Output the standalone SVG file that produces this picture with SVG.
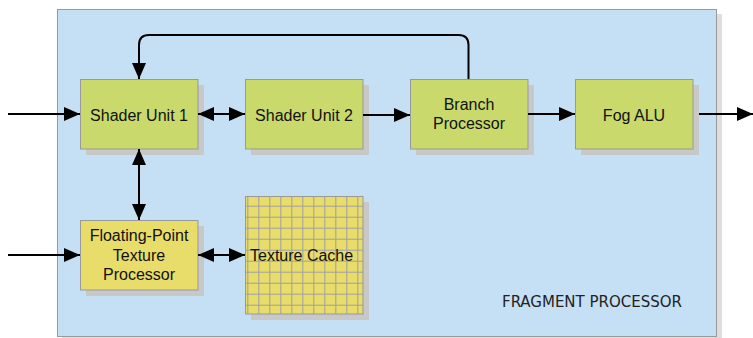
<svg xmlns="http://www.w3.org/2000/svg" width="753" height="338" viewBox="0 0 753 338">
<style>
.shadow{fill:#c8c8c8}
.green{fill:#c9d96b;stroke:#999;stroke-width:1}
.yellow{fill:#e8dc6a;stroke:#999;stroke-width:1}
.lbl{font-family:"Liberation Sans",Arial,sans-serif;font-size:16px;fill:#111;text-anchor:middle}
.wire{fill:none;stroke:#000;stroke-width:2}
</style>
<defs>
<marker id="ah" markerUnits="userSpaceOnUse" markerWidth="17" markerHeight="15" refX="16" refY="7" orient="auto-start-reverse">
<path d="M0,0 L16,7 L0,14 z" fill="#000"/>
</marker>
<pattern id="grid" patternUnits="userSpaceOnUse" x="247.3" y="194.7" width="11" height="11">
<rect width="11" height="11" fill="#e8dc6a"/>
<path d="M0,0.5 H11 M0.5,0 V11" stroke="#a0a0a0" stroke-width="1" fill="none"/>
</pattern>
</defs>
<g id="fragment-processor">
<rect x="62" y="14" width="660" height="330" class="shadow" fill-opacity="0.6"/>
<rect x="57.5" y="9.5" width="659" height="327" fill="#c5e0f4" stroke="#999" stroke-width="1"/>
<text x="502" y="306.5" font-family="'Gill Sans','DejaVu Sans Condensed','Liberation Sans',sans-serif" font-size="16" fill="#222" textLength="180" lengthAdjust="spacingAndGlyphs">FRAGMENT PROCESSOR</text>
</g>
<g id="shader-unit-1">
<rect x="86" y="85" width="118" height="70" class="shadow"/>
<rect x="80.5" y="79.5" width="117.5" height="69.5" class="green"/>
<text x="139" y="120.5" class="lbl">Shader Unit 1</text>
</g>
<g id="shader-unit-2">
<rect x="251" y="85" width="118" height="70" class="shadow"/>
<rect x="245.5" y="79.5" width="117.5" height="69.5" class="green"/>
<text x="304" y="120.5" class="lbl">Shader Unit 2</text>
</g>
<g id="branch-processor">
<rect x="416" y="85" width="118" height="70" class="shadow"/>
<rect x="410.5" y="79.5" width="117.5" height="69.5" class="green"/>
<text x="469" y="110" class="lbl">Branch</text>
<text x="469" y="129" class="lbl">Processor</text>
</g>
<g id="fog-alu">
<rect x="581" y="85" width="118" height="70" class="shadow"/>
<rect x="575.5" y="79.5" width="117.5" height="69.5" class="green"/>
<text x="634" y="120.5" class="lbl">Fog ALU</text>
</g>
<g id="floating-point-texture-processor">
<rect x="86" y="226" width="118" height="70" class="shadow"/>
<rect x="80.5" y="220.5" width="117.5" height="69.5" class="yellow"/>
<text x="139" y="240.5" class="lbl">Floating-Point</text>
<text x="139" y="260.5" class="lbl">Texture</text>
<text x="139" y="280" class="lbl">Processor</text>
</g>
<g id="texture-cache">
<rect x="251" y="202" width="118" height="118" class="shadow"/>
<rect x="245.5" y="196.5" width="117.5" height="117.5" fill="url(#grid)" stroke="#999" stroke-width="1"/>
<text x="250" y="260.5" font-family="'Liberation Sans',Arial,sans-serif" font-size="16" fill="#111">Texture Cache</text>
</g>
<g id="connectors">
<line x1="8" y1="114" x2="80" y2="114" class="wire" marker-end="url(#ah)"/>
<line x1="198" y1="114" x2="245" y2="114" class="wire" marker-start="url(#ah)" marker-end="url(#ah)"/>
<line x1="363" y1="115" x2="410" y2="115" class="wire" marker-end="url(#ah)"/>
<line x1="528" y1="114" x2="575" y2="114" class="wire" marker-end="url(#ah)"/>
<line x1="699" y1="114" x2="753" y2="114" class="wire" marker-end="url(#ah)"/>
<path d="M468.5,79 V45 Q468.5,35 458.5,35 H149 Q139,35 139,45 V79" class="wire" marker-end="url(#ah)"/>
<line x1="139" y1="149" x2="139" y2="220" class="wire" marker-start="url(#ah)" marker-end="url(#ah)"/>
<line x1="8" y1="255" x2="80" y2="255" class="wire" marker-end="url(#ah)"/>
<line x1="198" y1="255" x2="245" y2="255" class="wire" marker-start="url(#ah)" marker-end="url(#ah)"/>
</g>
</svg>
